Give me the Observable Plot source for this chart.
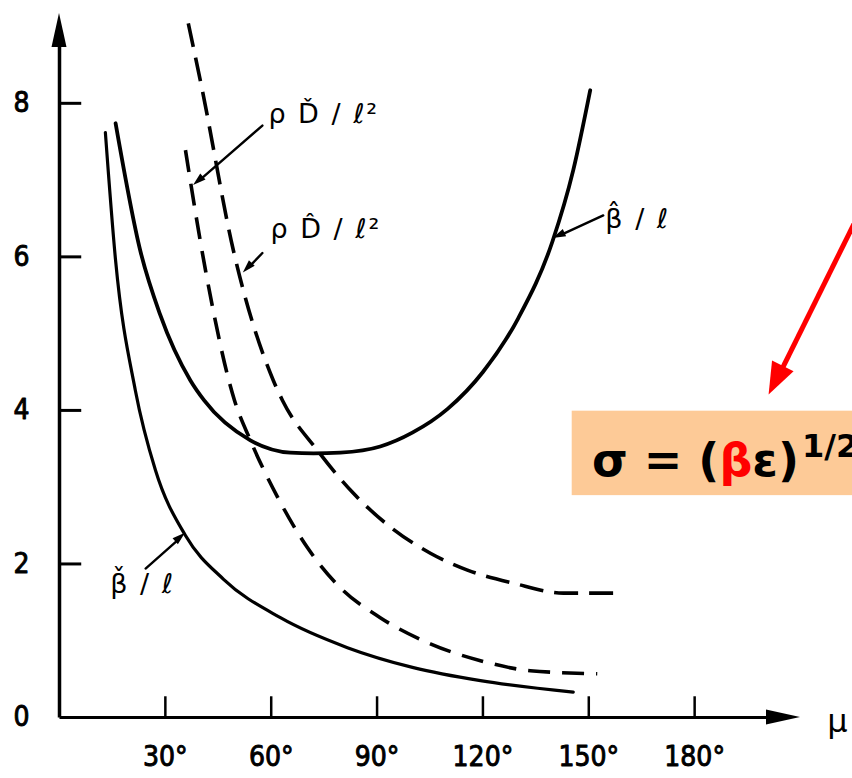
<!DOCTYPE html>
<html>
<head>
<meta charset="utf-8">
<script src="https://cdn.jsdelivr.net/npm/d3@7"></script>
<script src="https://cdn.jsdelivr.net/npm/@observablehq/plot@0.6"></script>
<style>
  html, body { margin: 0; padding: 0; background: #fff; overflow: hidden; }
</style>
</head>
<body>
<div id="chart"></div>
<script>
// Phase advance μ (degrees) against the normalised lattice functions.
const betaCheck = [[13.0,7.62],[15.9,5.95],[21.5,4.26],[27.2,3.22],[35.7,2.37],[46.5,1.80],[62.6,1.30],[81.6,0.91],[100.3,0.65],[119.3,0.48],[145.6,0.33]];
const betaHat = [[15.9,7.74],[22.9,6.08],[28.5,5.25],[37.1,4.39],[41.0,4.13],[54.1,3.61],[65.4,3.45],[72.0,3.44],[79.6,3.45],[90.9,3.53],[100.0,3.71],[110.0,4.02],[120.0,4.50],[130.0,5.20],[139.7,6.20],[145.6,7.13],[150.4,8.17]];
const rhoDCheck = [[35.7,7.39],[41.4,5.82],[49.6,4.13],[54.1,3.61],[61.8,2.87],[70.3,2.21],[79.6,1.69],[90.9,1.30],[105.1,0.96],[119.3,0.74],[133.4,0.61],[152.4,0.57]];
const rhoDHat = [[36.5,9.04],[40.3,8.21],[49.3,6.08],[60.6,4.39],[63.2,4.13],[73.1,3.48],[83.3,2.92],[93.8,2.48],[105.1,2.14],[115.6,1.92],[128.6,1.75],[142.8,1.62],[158.9,1.62]];

const xTicks = [30, 60, 90, 120, 150, 180];
const yTicks = [2, 4, 6, 8];
const yLabels = [0, 2, 4, 6, 8];
const xMax = 210, yMax = 9.17;

// curve names and the pointers that tie them to their curves
const curveLabels = [
  {text: "ρ Ď / ℓ²", x: 59.2, y: 7.74},
  {text: "ρ D̂ / ℓ²", x: 59.8, y: 6.25},
  {text: "β̂ / ℓ", x: 154.7, y: 6.38},
  {text: "β̌ / ℓ", x: 14.4, y: 1.62}
];
const pointers = [
  {x1: 24.4, y1: 1.94, x2: 35.7, y2: 2.40},
  {x1: 57.5, y1: 7.71, x2: 38.0, y2: 6.93},
  {x1: 57.5, y1: 6.05, x2: 52.1, y2: 5.79},
  {x1: 154.1, y1: 6.54, x2: 139.9, y2: 6.24}
];
const redPointer = {x1: 227.2, y1: 6.62, x2: 201.1, y2: 4.20};
const formulaBox = {x1: 145.3, x2: 232, y1: 2.89, y2: 3.99};
const formula = {x: 150.9, y: 3.15};
const axes = [
  {x1: 0, y1: 0, x2: xMax, y2: 0, w: 3},
  {x1: 0, y1: 0, x2: 0, y2: yMax, w: 3.5}
];

const ink = "#000";
const xy = {x: d => d[0], y: d => d[1], curve: "monotone-x", stroke: ink, strokeLinecap: "round", strokeLinejoin: "round"};

const chart = Plot.plot({
  width: 852,
  height: 778,
  marginLeft: 59,
  marginRight: 52,
  marginTop: 13,
  marginBottom: 61,
  x: {domain: [0, xMax], axis: null},
  y: {domain: [0, yMax], axis: null},
  style: {fontFamily: "DejaVu Sans", background: "#fff", color: ink},
  marks: [
    Plot.rect([formulaBox], {x1: "x1", x2: "x2", y1: "y1", y2: "y2", fill: "#fdca97"}),
    // axes
    Plot.arrow(axes, {x1: "x1", y1: "y1", x2: "x2", y2: "y2", strokeWidth: d => d.w, headLength: 0, insetEnd: 20, stroke: ink, strokeLinecap: "butt"}),
    Plot.ruleX(xTicks, {x: d => d, y1: 0, y2: 0.27, strokeWidth: 2.5, stroke: ink}),
    Plot.ruleY(yTicks, {y: d => d, x1: 0, x2: 6.3, strokeWidth: 3, stroke: ink}),
    Plot.text(xTicks, {x: d => d, y: 0, dy: 40, text: d => `${d}°`, fontSize: 28, fontFamily: "DejaVu Sans Condensed", fill: ink, stroke: ink, strokeWidth: 0.9}),
    Plot.text(yLabels, {x: 0, y: d => d, dx: -38, text: d => String(d), fontSize: 28, fontFamily: "DejaVu Sans Condensed", fill: ink, stroke: ink, strokeWidth: 0.9}),
    Plot.text(["μ"], {x: xMax, y: 0, dx: 37, dy: 4, text: d => d, fontSize: 32, fill: ink}),
    // curves
    Plot.line(betaCheck, {...xy, strokeWidth: 3.2}),
    Plot.line(betaHat, {...xy, strokeWidth: 3.8}),
    Plot.line(rhoDCheck, {...xy, strokeWidth: 3.6, strokeDasharray: "22,12", strokeLinecap: "butt"}),
    Plot.line(rhoDHat, {...xy, strokeWidth: 3.6, strokeDasharray: "24,11", strokeLinecap: "butt"}),
    // curve names
    Plot.arrow(pointers, {x1: "x1", y1: "y1", x2: "x2", y2: "y2", strokeWidth: 2.4, headLength: 0, insetEnd: 8, stroke: ink}),
    Plot.text(curveLabels, {x: "x", y: "y", text: "text", textAnchor: "start", lineAnchor: "bottom", fontSize: 27, fill: ink}),
    // highlighted formula
    Plot.arrow([redPointer], {x1: "x1", y1: "y1", x2: "x2", y2: "y2", strokeWidth: 5, headLength: 0, insetEnd: 24, stroke: "#ff0000", strokeLinecap: "butt"}),
    Plot.text([formula], {x: "x", y: "y", text: () => "σ = (βε)1/2", textAnchor: "start", lineAnchor: "bottom", fontSize: 46, fontWeight: "bold", fill: ink})
  ]
});

document.getElementById("chart").appendChild(chart);

// filled arrow heads, placed through the plot's own scales
const sx = chart.scale("x"), sy = chart.scale("y");
const svg = d3.select(chart);
function head(a, len, wid, color) {
  const x1 = sx.apply(a.x1), y1 = sy.apply(a.y1), x2 = sx.apply(a.x2), y2 = sy.apply(a.y2);
  const L = Math.hypot(x2 - x1, y2 - y1), ux = (x2 - x1) / L, uy = (y2 - y1) / L;
  const bx = x2 - ux * len, by = y2 - uy * len, nx = -uy * wid / 2, ny = ux * wid / 2;
  svg.append("polygon")
    .attr("points", [[x2, y2], [bx + nx, by + ny], [bx - nx, by - ny]].map(p => p.join(",")).join(" "))
    .attr("fill", color);
}
axes.forEach(a => head(a, 34, 15, ink));
pointers.forEach(a => head(a, 13, 8, ink));
head(redPointer, 32, 24, "#ff0000");

// hand-lettered curve names are set a little wider
const names = new Set(curveLabels.map(d => d.text));
svg.selectAll("text").filter(function() { return names.has(this.textContent); })
  .style("letter-spacing", "2px");

// formula with a red β and a raised exponent
const t = svg.selectAll("text").filter(function() { return this.textContent.startsWith("σ"); });
t.text(null);
t.append("tspan").text("σ = (");
t.append("tspan").attr("fill", "#ff0000").text("β");
t.append("tspan").text("ε)");
t.append("tspan").attr("font-size", 32).attr("dy", -19).attr("dx", 3).text("1/2");
</script>
</body>
</html>
